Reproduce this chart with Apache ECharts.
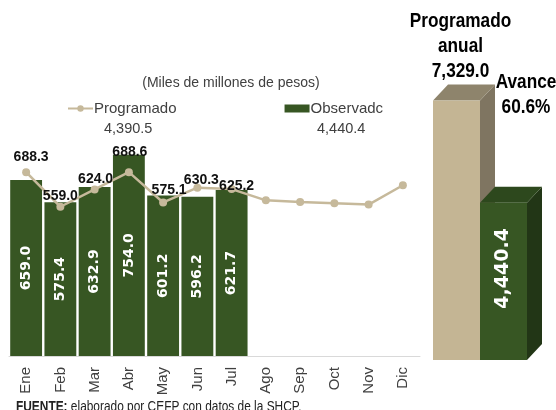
<!DOCTYPE html>
<html>
<head>
<meta charset="utf-8">
<script src="https://cdn.jsdelivr.net/npm/echarts@6/dist/echarts.min.js"></script>
<style>
  html, body { margin: 0; padding: 0; background: #fff; }
  #main { width: 556px; height: 410px; }
</style>
</head>
<body>
<div id="main"></div>
<script>
// datos
var meses = ['Ene', 'Feb', 'Mar', 'Abr', 'May', 'Jun', 'Jul', 'Ago', 'Sep', 'Oct', 'Nov', 'Dic'];
var programado = [688.3, 559.0, 624.0, 688.6, 575.1, 630.3, 625.2, 583.0, 577.0, 572.0, 567.0, 639.5];
var observado = [659.0, 575.4, 632.9, 754.0, 601.2, 596.2, 621.7, null, null, null, null, null];
var programadoAcum = 4390.5;
var observadoAcum = 4440.4;
var programadoAnual = 7329.0;
var acumCategorias = ['', 'Obs.\nAcumulado'];
var acumValores = [programadoAnual, observadoAcum];

// etiquetas de la línea: solo ene-jul, pequeños ajustes de posición
var nLabels = 7;
var labelShift = [[5, -3], [0, 1], [1, 2], [1, -8], [6, 0], [4, 4], [5, 9]];

var fmt = function (v) {
  var s = v.toFixed(1).split('.');
  return s[0].replace(/\B(?=(\d{3})+(?!\d))/g, ',') + '.' + s[1];
};

var sans = "'Liberation Sans', Arial, sans-serif";
var wide = "'DejaVu Sans', sans-serif";
var cubo = [
  { front: '#c4b594', side: '#7f7561', top: '#8e846c' },
  { front: '#375623', side: '#223616', top: '#2d481d' }
];
var dx = 15, dy = 16;

var chart = echarts.init(document.getElementById('main'));

chart.setOption({
  animation: false,
  title: {
    text: '(Miles de millones de pesos)',
    left: 226, top: 71, textAlign: 'center',
    textStyle: { fontFamily: sans, fontSize: 14, fontWeight: 'normal', color: '#404040' }
  },
  legend: {
    left: 62, top: 96, itemGap: 108, itemWidth: 25, itemHeight: 8,
    data: [{ name: 'Programado' }, { name: 'Observadc', icon: 'rect' }],
    textStyle: { fontFamily: sans, fontSize: 15, color: '#404040', padding: [0, 0, 0, -4] }
  },
  graphic: [
    { type: 'text', left: 104, top: 121,
      style: { text: fmt(programadoAcum), font: '14.5px ' + sans, fill: '#404040' } },
    { type: 'text', left: 317, top: 121,
      style: { text: fmt(observadoAcum), font: '14.5px ' + sans, fill: '#404040' } },
    { type: 'text', x: 16, y: 400, scaleX: 0.85,
      style: {
        text: '{b|FUENTE:} elaborado por CEFP con datos de la SHCP.',
        font: '14px ' + sans, fill: '#222',
        rich: { b: { fontWeight: 'bold', fontFamily: sans, fontSize: 14 } }
      } },
    { type: 'text', x: 526, y: 70, scaleX: 0.82,
      style: {
        text: 'Avance\n' + (observadoAcum / programadoAnual * 100).toFixed(1) + '%',
        font: 'bold 21px ' + sans, fill: '#000', align: 'center', lineHeight: 25
      } }
  ],
  grid: [
    { left: 9, right: 136, top: 89, bottom: 54 },
    { left: 433, width: 94, top: 6, bottom: 50 }
  ],
  xAxis: [
    {
      gridIndex: 0, type: 'category', data: meses,
      axisLine: { lineStyle: { color: '#d9d9d9', width: 1 } },
      axisTick: { show: false },
      axisLabel: { rotate: 90, margin: 11, fontFamily: sans, fontSize: 15, color: '#404040' }
    },
    {
      gridIndex: 1, type: 'category', data: acumCategorias,
      axisLine: { show: false }, axisTick: { show: false },
      axisLabel: { margin: 12, fontFamily: sans, fontSize: 15, lineHeight: 19, color: '#404040' }
    }
  ],
  yAxis: [
    { gridIndex: 0, type: 'value', min: 0, max: 1000, show: false },
    { gridIndex: 1, type: 'value', min: 0, max: 10000, show: false }
  ],
  series: [
    {
      name: 'Observadc', type: 'bar', data: observado,
      barCategoryGap: '7%',
      itemStyle: { color: '#375623' },
      label: {
        show: true, position: 'inside', rotate: 90,
        formatter: function (p) { return p.value.toFixed(1); },
        fontFamily: wide, fontWeight: 'bold', fontSize: 14, color: '#fff'
      }
    },
    {
      name: 'Programado', type: 'line', data: programado.map(function (v, i) {
        if (i >= nLabels) return v;
        return { value: v, label: { offset: labelShift[i] } };
      }),
      symbol: 'circle', symbolSize: 8,
      lineStyle: { color: '#c6b99b', width: 2.5 },
      itemStyle: { color: '#c6b99b' },
      label: {
        show: true, position: 'top', distance: 1,
        formatter: function (p) { return p.dataIndex < nLabels ? p.value.toFixed(1) : ''; },
        fontFamily: sans, fontWeight: 'bold', fontSize: 14, color: '#111'
      },
      z: 5
    },
    {
      name: 'Acumulado', type: 'custom', xAxisIndex: 1, yAxisIndex: 1,
      data: acumValores.map(function (v, i) { return [i, v]; }),
      renderItem: function (params, api) {
        var top = api.coord([api.value(0), api.value(1)]);
        var base = api.coord([api.value(0), 0]);
        var w = api.size([1, 0])[0];
        var x0 = top[0] - w / 2, x1 = top[0] + w / 2;
        var c = cubo[params.dataIndex];
        var kids = [
          { type: 'polygon', shape: { points: [[x1, top[1]], [x1 + dx, top[1] - dy], [x1 + dx, base[1] - dy], [x1, base[1]]] },
            style: { fill: c.side } },
          { type: 'polygon', shape: { points: [[x0, top[1]], [x0 + dx, top[1] - dy], [x1 + dx, top[1] - dy], [x1, top[1]]] },
            style: { fill: c.top } },
          { type: 'rect', shape: { x: x0, y: top[1], width: w, height: base[1] - top[1] },
            style: { fill: c.front } }
        ];
        if (params.dataIndex === 0) {
          kids.push({ type: 'text', x: top[0] + 4, y: top[1] - 17, scaleX: 0.82,
            style: { text: 'Programado\nanual\n' + fmt(api.value(1)), font: 'bold 21px ' + sans,
              fill: '#000', align: 'center', verticalAlign: 'bottom', lineHeight: 25 } });
        } else {
          kids.push({ type: 'text', x: top[0], y: (top[1] + base[1]) / 2 - 13, rotation: Math.PI / 2,
            style: { text: fmt(api.value(1)), font: 'bold 19px ' + wide, fill: '#fff',
              align: 'center', verticalAlign: 'middle' } });
        }
        return { type: 'group', children: kids };
      },
      z: 3
    }
  ]
});
</script>
</body>
</html>
